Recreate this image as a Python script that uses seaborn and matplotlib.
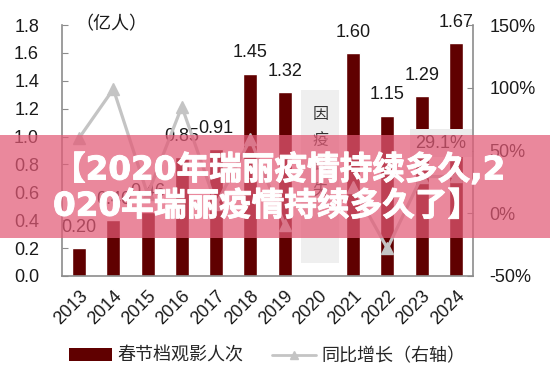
import numpy as np
import matplotlib
matplotlib.use("Agg")
import matplotlib.pyplot as plt
import matplotlib.patheffects as pe
import seaborn as sns
from matplotlib.patches import Rectangle, Patch
from matplotlib.lines import Line2D


# chart data
years = ["2013", "2014", "2015", "2016", "2017", "2018",
         "2019", "2020", "2021", "2022", "2023", "2024"]
viewers = [0.20, 0.40, 0.46, 0.85, 0.91, 1.45,
           1.32, np.nan, 1.60, 1.15, 1.29, 1.67]
viewer_labels = ["0.20", "0.40", "0.46", "0.85", "0.91", "1.45",
                 "1.32", "", "1.60", "1.15", "1.29", "1.67"]
growth = [60, 99, 15, 85, 7, 59, -9, np.nan, 21, -28, 29.1, 29.5]
growth_label_year = "2023"
growth_label = "29.1%"
missing_year = "2020"
missing_note = "因\n疫\n缺\n失"
left_ticks = [0.0, 0.2, 0.4, 0.6, 0.8, 1.0, 1.2, 1.4, 1.6, 1.8]
right_ticks = [-50, 0, 50, 100, 150]
unit_label = "（亿人）"
legend_labels = ["春节档观影人次", "同比增长（右轴）"]
banner_lines = ["【2020年瑞丽疫情持续多久,2", "020年瑞丽疫情持续多久了】"]

BAR = "#600000"
LINE = "#c4c4c4"
AXIS = "#8c8c8c"
TEXT = "#1a1a1a"

sns.set_style("white")
plt.rcParams["font.family"] = ["Liberation Sans", "Noto Sans CJK SC"]

fig = plt.figure(figsize=(5.5, 3.75), dpi=100)
ax = fig.add_axes([62 / 550, 1 - 276 / 375, 411 / 550, 251 / 375])
ax2 = ax.twinx()

# bars
sns.barplot(
    x=years,
    y=viewers,
    order=years,
    color=BAR,
    saturation=1,
    width=0.41,
    errorbar=None,
    ax=ax
)

for i, (v, lab) in enumerate(zip(viewers, viewer_labels)):
    if np.isnan(v):
        continue
    ax.annotate(lab, (i, v), xytext=(0, 15), textcoords="offset points",
                ha="center", va="center", fontsize=13, color=TEXT)

# grey box for the missing year
mi = years.index(missing_year)
ax.add_patch(Rectangle((mi - 0.52, 0.09), 1.1, 1.245,
                       facecolor="#efefef", edgecolor="none", zorder=0.5))
ax.text(mi + 0.05, 1.21, missing_note, ha="center", va="top",
        fontsize=11.5, linespacing=1.85, color="#333333")

# growth line (right axis)
ax2.plot(np.arange(len(years)), growth, color=LINE, lw=2.3,
         marker="^", markersize=8)
gi = years.index(growth_label_year)
ax2.annotate(growth_label, (gi, growth[gi]), xytext=(14, 24),
             textcoords="offset points", ha="center", va="center",
             fontsize=13, color=TEXT,
             bbox=dict(boxstyle="square,pad=0.3", fc="#ececec", ec="none"))

# axes styling
ax.set_xlim(-0.5, len(years) - 0.5)
ax.set_ylim(0, 1.8)
ax2.set_ylim(-50, 150)

ax.set_yticks(left_ticks)
ax.set_yticklabels([f"{t:.1f}" for t in left_ticks])
ax2.set_yticks(right_ticks)
ax2.set_yticklabels([f"{t}%" for t in right_ticks])

ax.set_xticks(range(len(years)))
ax.set_xticklabels(years, rotation=45, ha="right", rotation_mode="anchor")
ax.set_xticks(np.arange(0.5, len(years) - 1), minor=True)
ax.set_xlabel("")
ax.set_ylabel("")

ax.tick_params(axis="x", which="major", length=0, pad=8,
               labelsize=13, labelcolor=TEXT)
ax.tick_params(axis="x", which="minor", direction="in", length=4,
               color=AXIS, width=1)
ax.tick_params(axis="y", direction="in", length=4, pad=16.5,
               color=AXIS, labelsize=13, labelcolor=TEXT)
ax2.tick_params(axis="y", direction="in", length=4, pad=12,
                color=AXIS, labelsize=13, labelcolor=TEXT)

for name in ["top", "right"]:
    ax.spines[name].set_visible(False)
for name in ["top", "left", "bottom"]:
    ax2.spines[name].set_visible(False)
for sp in [ax.spines["left"], ax.spines["bottom"], ax2.spines["right"]]:
    sp.set_color(AXIS)
    sp.set_linewidth(1.2)

fig.text(75 / 550, 1 - 25 / 375, unit_label, ha="left", va="center",
         fontsize=13, color=TEXT)

# legend
handles = [
    Patch(facecolor=BAR, edgecolor="none"),
    Line2D([], [], color=LINE, lw=2, marker="^", markersize=6)
]
fig.legend(handles, legend_labels, loc="center",
           bbox_to_anchor=(0.485, 0.05), ncol=2, frameon=False,
           fontsize=13, handlelength=2.4, columnspacing=1.6,
           handletextpad=0.3)

# overlay banner
fig.add_artist(Rectangle((0, 1 - 238 / 375), 1, 103 / 375,
                         transform=fig.transFigure,
                         facecolor=(227 / 255, 90 / 255, 118 / 255),
                         alpha=0.72, edgecolor="none", zorder=10))
fig.text(53 / 550, 1 - 188 / 375, "\n".join(banner_lines),
         ha="left", va="center", fontsize=23.5, fontweight="bold",
         color="white", family=["DejaVu Sans", "Noto Sans CJK SC"],
         linespacing=1.12, zorder=11,
         path_effects=[pe.withStroke(linewidth=0.7, foreground="white")])

fig.savefig("out.png", dpi=100)
plt.close(fig)
